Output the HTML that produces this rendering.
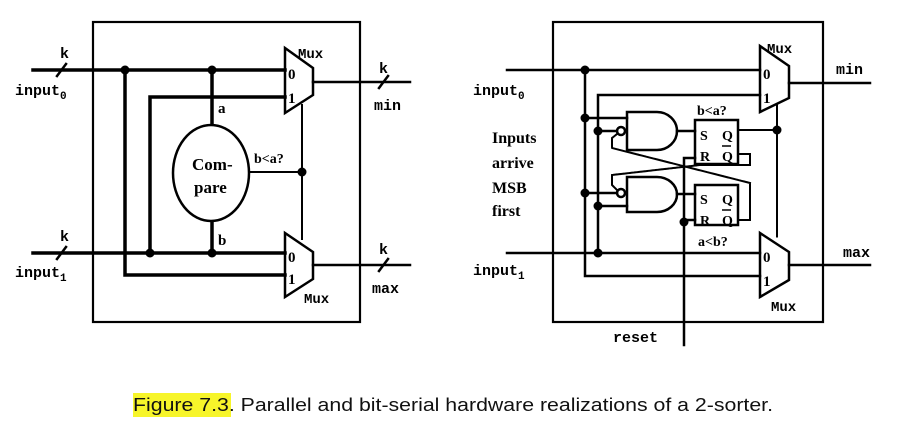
<!DOCTYPE html>
<html><head><meta charset="utf-8"><style>
html,body{margin:0;padding:0;background:#fff;}
svg{display:block;}
.m{font-family:"Liberation Mono",monospace;font-weight:bold;font-size:15px;}
.s{font-family:"Liberation Serif",serif;}
</style></head><body>
<svg width="903" height="437" viewBox="0 0 903 437" xmlns="http://www.w3.org/2000/svg">
<g stroke="#000" fill="none" stroke-linecap="square">
<!-- LEFT PANEL -->
<rect x="93" y="22" width="267" height="300" stroke-width="2.2"/>
<g stroke-width="3.5">
<line x1="33" y1="70" x2="285" y2="70"/>
<line x1="33" y1="253" x2="285" y2="253"/>
<polyline points="125,70 125,275 285,275"/>
<polyline points="285,97 150,97 150,253"/>
<line x1="212" y1="70" x2="212" y2="124"/>
<line x1="212" y1="222" x2="212" y2="253"/>
</g>
<g stroke-width="2.5">
<line x1="313" y1="82" x2="410" y2="82"/>
<line x1="313" y1="265" x2="410" y2="265"/>
<polygon points="285,48 313,68 313,95 285,113"/>
<polygon points="285,233 313,252 313,279 285,297"/>
<ellipse cx="211" cy="173" rx="38" ry="48"/>
<line x1="57" y1="76" x2="66" y2="64"/>
<line x1="57" y1="259" x2="66" y2="247"/>
<line x1="379" y1="88" x2="388" y2="76"/>
<line x1="379" y1="271" x2="388" y2="259"/>
</g>
<g stroke-width="2" stroke-dasharray="2,1.5">
<line x1="250" y1="172" x2="302" y2="172"/>
<line x1="302" y1="105" x2="302" y2="239"/>
</g>
<!-- RIGHT PANEL -->
<rect x="553" y="22" width="270" height="300" stroke-width="2.2"/>
<g stroke-width="2.5">
<line x1="507" y1="70" x2="760" y2="70"/>
<line x1="507" y1="253" x2="760" y2="253"/>
<polyline points="585,70 585,276 760,276"/>
<polyline points="760,95 598,95 598,253"/>
<line x1="789" y1="83" x2="870" y2="83"/>
<line x1="789" y1="265" x2="870" y2="265"/>
<polygon points="760,46 789,66 789,98 760,112"/>
<polygon points="760,233 789,252 789,280 760,297"/>
<line x1="585" y1="118" x2="627" y2="118"/>
<line x1="598" y1="131" x2="617" y2="131"/>
<line x1="585" y1="193" x2="617" y2="193"/>
<line x1="598" y1="206" x2="627" y2="206"/>
<path d="M627,112 L657,112 A20,19 0 0 1 657,150 L627,150 Z"/>
<path d="M627,177 L657,177 A20,17.5 0 0 1 657,212 L627,212 Z"/>
<circle cx="621" cy="131" r="4"/>
<circle cx="621" cy="193" r="4"/>
<line x1="677" y1="131" x2="695" y2="131"/>
<line x1="677" y1="194" x2="695" y2="194"/>
<rect x="695" y="120" width="43" height="44"/>
<rect x="695" y="185" width="43" height="40"/>
<polyline points="684,345 684,158 695,158"/>
<line x1="684" y1="220" x2="695" y2="220"/>
</g>
<g stroke-width="2" stroke-dasharray="2,1.5">
<line x1="738" y1="130" x2="777" y2="130"/>
<line x1="777" y1="105" x2="777" y2="237"/>
<polyline points="738,220 750,220 750,183 612,148 612,138 617,134"/>
<polyline points="738,154 750,154 750,165 700,165 612,175 612,185 617,190"/>
</g>
</g>
<g fill="#000">
<circle cx="125" cy="70" r="4.5"/><circle cx="212" cy="70" r="4.5"/>
<circle cx="150" cy="253" r="4.5"/><circle cx="212" cy="253" r="4.5"/>
<circle cx="302" cy="172" r="4.5"/>
<circle cx="585" cy="70" r="4.5"/><circle cx="585" cy="118" r="4.5"/><circle cx="598" cy="131" r="4.5"/>
<circle cx="585" cy="193" r="4.5"/><circle cx="598" cy="206" r="4.5"/><circle cx="598" cy="253" r="4.5"/>
<circle cx="777" cy="130" r="4.5"/><circle cx="684" cy="222" r="4.5"/>
</g>
<g class="m" fill="#000">
<text x="60" y="58">k</text><text x="60" y="241">k</text>
<text x="379" y="73">k</text><text x="379" y="254">k</text>
<text x="15" y="95">input<tspan font-size="11" dy="4">0</tspan></text>
<text x="15" y="277">input<tspan font-size="11" dy="4">1</tspan></text>
<text x="374" y="110">min</text><text x="372" y="293">max</text>
<text x="298" y="58" font-size="14">Mux</text><text x="304" y="303" font-size="14">Mux</text>
<text x="473" y="95">input<tspan font-size="11" dy="4">0</tspan></text>
<text x="473" y="275">input<tspan font-size="11" dy="4">1</tspan></text>
<text x="836" y="74">min</text><text x="843" y="257">max</text>
<text x="767" y="53" font-size="14">Mux</text><text x="771" y="311" font-size="14">Mux</text>
<text x="613" y="342">reset</text>
</g>
<g class="s" fill="#000" font-size="15" font-weight="bold">
<text x="288" y="79">0</text><text x="288" y="103">1</text>
<text x="288" y="262">0</text><text x="288" y="284">1</text>
<text x="763" y="79">0</text><text x="763" y="103">1</text>
<text x="763" y="262">0</text><text x="763" y="286">1</text>
<text x="218" y="113">a</text>
<text x="218" y="245">b</text>
<text x="192" y="170" font-size="17">Com-</text>
<text x="194" y="193" font-size="17">pare</text>
<text x="254" y="163" font-size="14">b&lt;a?</text>
<text x="697" y="115" font-size="14">b&lt;a?</text>
<text x="698" y="246" font-size="14">a&lt;b?</text>
<text x="700" y="140" font-size="14">S</text><text x="722" y="140" font-size="14">Q</text>
<text x="700" y="161" font-size="14">R</text><text x="722" y="161" font-size="14">Q</text>
<line x1="722" y1="146" x2="731" y2="146" stroke="#000" stroke-width="1.5"/>
<text x="700" y="204" font-size="14">S</text><text x="722" y="204" font-size="14">Q</text>
<text x="700" y="225" font-size="14">R</text><text x="722" y="225" font-size="14">Q</text>
<line x1="722" y1="210" x2="731" y2="210" stroke="#000" stroke-width="1.5"/>
<text x="492" y="143" font-size="16">Inputs</text>
<text x="492" y="168" font-size="16">arrive</text>
<text x="492" y="193" font-size="16">MSB</text>
<text x="492" y="216" font-size="16">first</text>
</g>
<rect x="133" y="393" width="98" height="24" fill="#f7f52a"/>
<text x="133" y="411" font-family="Liberation Sans, sans-serif" font-size="18" fill="#111" textLength="640" lengthAdjust="spacingAndGlyphs">Figure 7.3. Parallel and bit-serial hardware realizations of a 2-sorter.</text>
</svg>
</body></html>
